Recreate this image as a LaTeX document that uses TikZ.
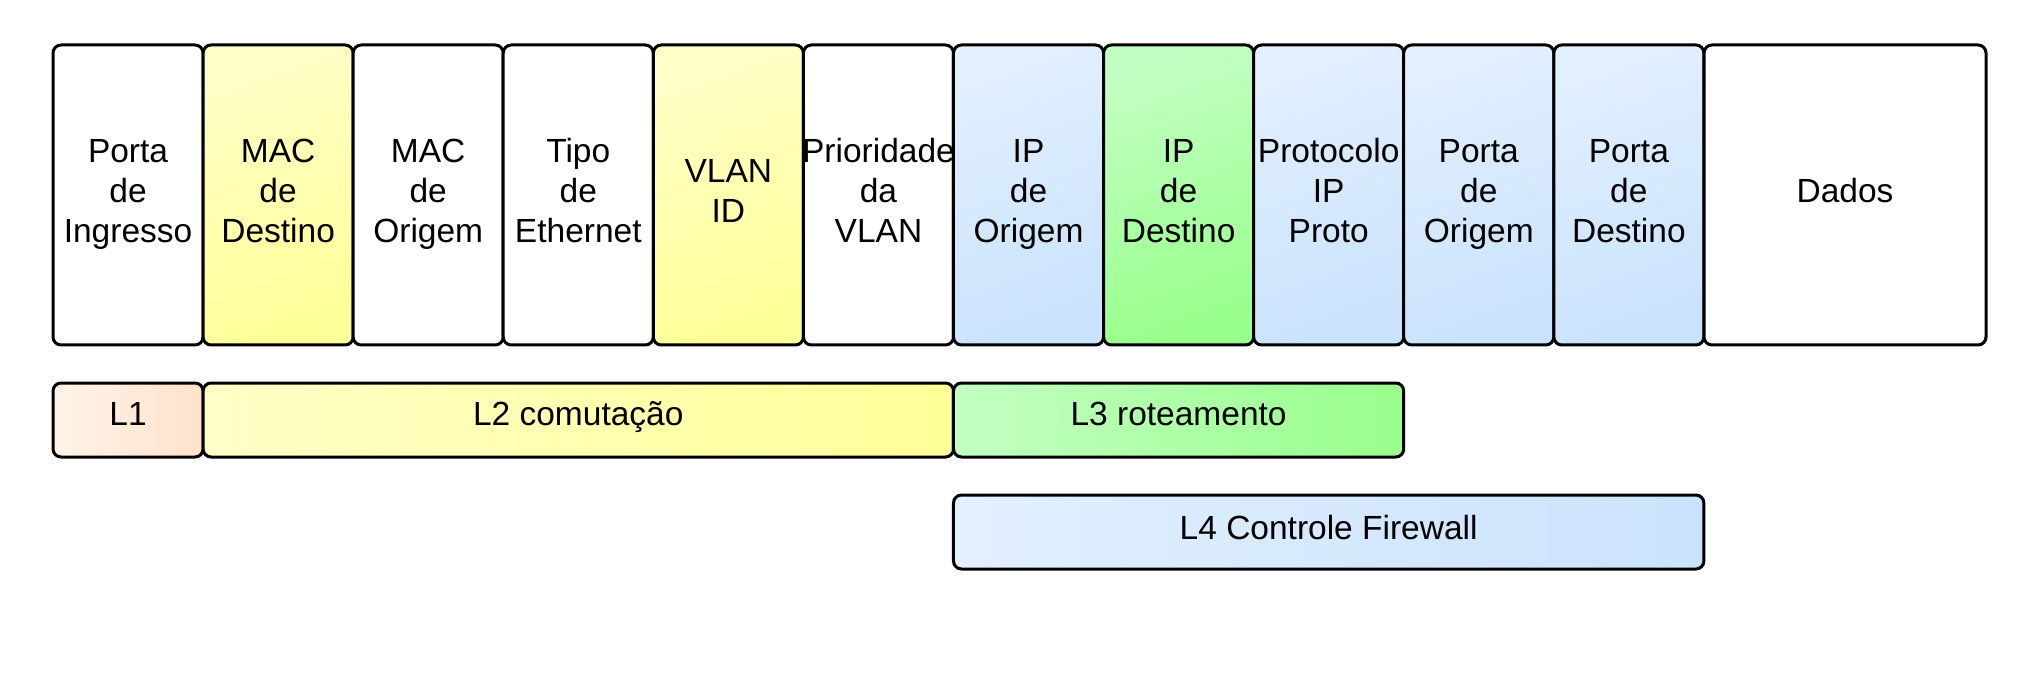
\documentclass[tikz,border=0pt]{standalone}
\usepackage{fontspec}
\setmainfont{Liberation Sans}
\definecolor{yelA}{HTML}{FFFFC8}
\definecolor{yelB}{HTML}{FFFF99}
\definecolor{grnA}{HTML}{C2FFC2}
\definecolor{grnB}{HTML}{99FF8C}
\definecolor{bluA}{HTML}{E2EFFF}
\definecolor{bluB}{HTML}{CAE3FC}
\definecolor{orA}{HTML}{FFF3E8}
\definecolor{orB}{HTML}{FFE2CC}
\newcommand\tri[3]{\strut #1\\\strut #2\\\strut #3}
\begin{document}
\begin{tikzpicture}[x=1pt,y=-1pt,
  fld/.style={draw=black, line width=3pt, rounded corners=8pt, inner sep=0pt, outer sep=0pt,
    align=center, font=\fontsize{33.5}{40}\selectfont, minimum height=300pt},
  lbl/.style={inner sep=0pt, align=center, font=\fontsize{33.5}{40}\selectfont},
  wht/.style={fill=white},
  yel/.style={top color=yelA, bottom color=yelB, shading angle=20},
  grn/.style={top color=grnA, bottom color=grnB, shading angle=20},
  blu/.style={top color=bluA, bottom color=bluB, shading angle=20},
  band/.style={draw=black, line width=3pt, rounded corners=8pt, inner sep=0pt, outer sep=0pt,
    minimum height=74pt},
]
\useasboundingbox (0,0) rectangle (2018,684);
\def\w{150.08}
\node[fld,wht,minimum width=\w] (f1) at (128.04,195) {};
\node[fld,yel,minimum width=\w] (f2) at (278.12,195) {};
\node[fld,wht,minimum width=\w] (f3) at (428.20,195) {};
\node[fld,wht,minimum width=\w] (f4) at (578.28,195) {};
\node[fld,yel,minimum width=\w] (f5) at (728.36,195) {};
\node[fld,wht,minimum width=\w] (f6) at (878.44,195) {};
\node[fld,blu,minimum width=\w] (f7) at (1028.52,195) {};
\node[fld,grn,minimum width=\w] (f8) at (1178.60,195) {};
\node[fld,blu,minimum width=\w] (f9) at (1328.68,195) {};
\node[fld,blu,minimum width=\w] (f10) at (1478.76,195) {};
\node[fld,blu,minimum width=\w] (f11) at (1628.84,195) {};
\node[fld,wht,minimum width=282] (f12) at (1845,195) {};
\node[lbl] (t1) at ([yshift=0.5pt]f1.center) {\tri{Porta}{de}{Ingresso}};
\node[lbl] (t2) at ([yshift=0.5pt]f2.center) {\tri{MAC}{de}{Destino}};
\node[lbl] (t3) at ([yshift=0.5pt]f3.center) {\tri{MAC}{de}{Origem}};
\node[lbl] (t4) at ([yshift=0.5pt]f4.center) {\tri{Tipo}{de}{Ethernet}};
\node[lbl] (t5) at ([yshift=0.5pt]f5.center) {\strut VLAN\\\strut ID};
\node[lbl] (t6) at ([yshift=0.5pt]f6.center) {\tri{Prioridade}{da}{VLAN}};
\node[lbl] (t7) at ([yshift=0.5pt]f7.center) {\tri{IP}{de}{Origem}};
\node[lbl] (t8) at ([yshift=0.5pt]f8.center) {\tri{IP}{de}{Destino}};
\node[lbl] (t9) at ([yshift=0.5pt]f9.center) {\tri{Protocolo}{IP}{Proto}};
\node[lbl] (t10) at ([yshift=0.5pt]f10.center) {\tri{Porta}{de}{Origem}};
\node[lbl] (t11) at ([yshift=0.5pt]f11.center) {\tri{Porta}{de}{Destino}};
\node[lbl] (t12) at ([yshift=0.5pt]f12.center) {\strut Dados};
\node[band,left color=orA, right color=orB, minimum width=\w] (l1) at (128.04,420) {};
\node[band,left color=yelA, right color=yelB, minimum width=750.4] (l2) at (578.28,420) {};
\node[band,left color=grnA, right color=grnB, minimum width=450.24] (l3) at (1178.60,420) {};
\node[band,left color=bluA, right color=bluB, minimum width=750.4] (l4) at (1328.68,532) {};
\node[lbl] (b1) at ([yshift=2.5pt]l1.center) {\strut L1};
\node[lbl] (b2) at ([yshift=2.5pt]l2.center) {\strut L2 comutação};
\node[lbl] (b3) at ([yshift=2.5pt]l3.center) {\strut L3 roteamento};
\node[lbl] (b4) at ([yshift=1pt]l4.center) {\strut L4 Controle Firewall};
\end{tikzpicture}
\end{document}
